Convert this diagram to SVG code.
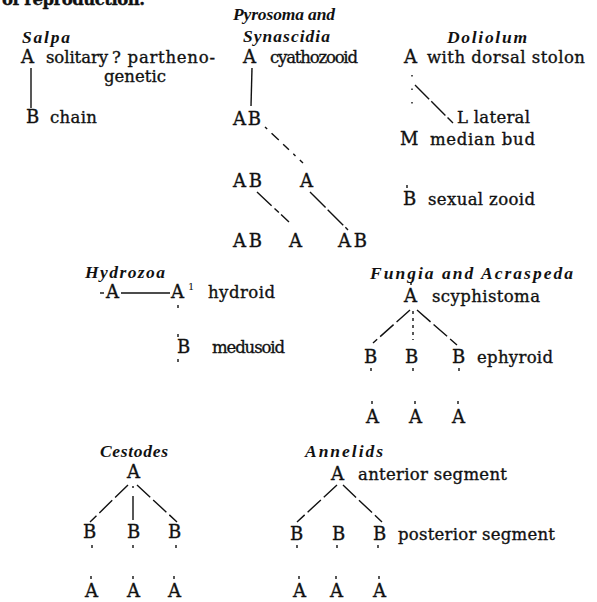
<svg xmlns="http://www.w3.org/2000/svg" width="597" height="602" viewBox="0 0 597 602">
<style>
text{font-family:"DejaVu Serif","Liberation Serif",serif;fill:#111;}
.t{font-size:16.5px;stroke:#111;stroke-width:0.35;}
.L{font-size:18px;}
.h{font-size:17.5px;font-style:italic;font-weight:bold;font-family:"Liberation Serif","DejaVu Serif",serif;}
.s{font-size:10px;}
.c line{stroke:#111;stroke-width:1.4;fill:none;}
.d{stroke-dasharray:18,4;}
</style>
<rect width="597" height="602" fill="#fff"/>
<text class="t" x="2" y="5" textLength="143" font-weight="bold">of reproduction.</text>

<g id="salpa">
<text class="h" x="22" y="43" textLength="48">Salpa</text>
<text class="t L" x="21" y="63">A</text>
<text class="t" x="46" y="63" textLength="62">solitary</text>
<text class="t" x="112" y="63" textLength="103">? partheno-</text>
<text class="t" x="104" y="82" textLength="62">genetic</text>
<text class="t L" x="26" y="123">B</text>
<text class="t" x="50" y="123" textLength="47">chain</text>
</g>

<g id="pyrosoma">
<text class="h" x="233" y="20" textLength="102">Pyrosoma and</text>
<text class="h" x="243" y="42" textLength="87">Synascidia</text>
<text class="t L" x="243" y="63">A</text>
<text class="t" x="270" y="63" textLength="88">cyathozooid</text>
<text class="t L" x="233" y="125" textLength="28">AB</text>
<text class="t L" x="233" y="187" textLength="29">AB</text>
<text class="t L" x="300" y="187">A</text>
<text class="t L" x="233" y="247" textLength="29">AB</text>
<text class="t L" x="289" y="247">A</text>
<text class="t L" x="338" y="247" textLength="29">AB</text>
</g>

<g id="doliolum">
<text class="h" x="447" y="43" textLength="80">Doliolum</text>
<text class="t L" x="404" y="63">A</text>
<text class="t" x="427" y="63" textLength="158">with dorsal stolon</text>
<text class="t" x="457" y="123" textLength="73">L lateral</text>
<text class="t L" x="400" y="145" textLength="17">M</text>
<text class="t" x="430" y="145" textLength="105">median bud</text>
<text class="t L" x="403" y="205">B</text>
<text class="t" x="428" y="205" textLength="107">sexual zooid</text>
</g>

<g id="hydrozoa">
<text class="h" x="85" y="278" textLength="80">Hydrozoa</text>
<text class="t L" x="106" y="298">A</text>
<text class="t L" x="171" y="298">A</text>
<text class="s" x="188" y="290">1</text>
<text class="t" x="208" y="298" textLength="67">hydroid</text>
<text class="t L" x="177" y="353">B</text>
<text class="t" x="212" y="353" textLength="73">medusoid</text>
</g>

<g id="fungia">
<text class="h" x="370" y="279" textLength="203">Fungia and Acraspeda</text>
<text class="t L" x="404" y="302">A</text>
<text class="t" x="432" y="302" textLength="108">scyphistoma</text>
<text class="t L" x="364" y="363">B</text>
<text class="t L" x="405" y="363">B</text>
<text class="t L" x="452" y="363">B</text>
<text class="t" x="477" y="363" textLength="76">ephyroid</text>
<text class="t L" x="366" y="423">A</text>
<text class="t L" x="409" y="423">A</text>
<text class="t L" x="452" y="423">A</text>
</g>

<g id="cestodes">
<text class="h" x="100" y="457" textLength="68">Cestodes</text>
<text class="t L" x="127" y="478">A</text>
<text class="t L" x="83" y="538">B</text>
<text class="t L" x="127" y="538">B</text>
<text class="t L" x="168" y="538">B</text>
<text class="t L" x="85" y="597">A</text>
<text class="t L" x="127" y="597">A</text>
<text class="t L" x="168" y="597">A</text>
</g>

<g id="annelids">
<text class="h" x="305" y="457" textLength="78">Annelids</text>
<text class="t L" x="331" y="480">A</text>
<text class="t" x="358" y="480" textLength="149">anterior segment</text>
<text class="t L" x="290" y="540">B</text>
<text class="t L" x="332" y="540">B</text>
<text class="t L" x="373" y="540">B</text>
<text class="t" x="398" y="540" textLength="157">posterior segment</text>
<text class="t L" x="293" y="597">A</text>
<text class="t L" x="330" y="597">A</text>
<text class="t L" x="373" y="597">A</text>
</g>

<g id="connectors" class="c">
<line x1="31" y1="68" x2="31" y2="108"/>
<line x1="252" y1="68" x2="251" y2="106"/>
<line x1="265" y1="127" x2="303" y2="163" stroke-dasharray="3,6,10,6,8,6"/>
<line x1="257" y1="192" x2="289" y2="222" stroke-dasharray="20,4,6,3"/>
<line x1="310" y1="192" x2="348" y2="230" stroke-dasharray="22,3"/>
<line x1="412" y1="75" x2="412" y2="114" stroke-dasharray="1.5,12"/>
<line x1="415" y1="85" x2="453" y2="123" stroke-dasharray="20,3"/>
<line x1="407" y1="185" x2="407" y2="188"/>
<line x1="100" y1="293" x2="104" y2="293"/>
<line x1="121" y1="293" x2="170" y2="293"/>
<line x1="178" y1="305" x2="178" y2="308"/>
<line x1="178" y1="334" x2="178" y2="337"/>
<line x1="178" y1="359" x2="178" y2="362"/>
<line x1="411" y1="282" x2="411" y2="285"/>
<line x1="410" y1="310" x2="373" y2="343" class="d"/>
<line x1="413" y1="311" x2="413" y2="340" stroke-dasharray="3,4"/>
<line x1="417" y1="310" x2="457" y2="345" class="d"/>
<line x1="371" y1="368" x2="371" y2="371"/>
<line x1="413" y1="368" x2="413" y2="371"/>
<line x1="459" y1="368" x2="459" y2="371"/>
<line x1="372" y1="401" x2="372" y2="404"/>
<line x1="415" y1="401" x2="415" y2="404"/>
<line x1="458" y1="401" x2="458" y2="404"/>
<line x1="128" y1="485" x2="90" y2="522" class="d"/>
<line x1="133" y1="486" x2="133" y2="520" stroke-dasharray="2,8,30"/>
<line x1="137" y1="485" x2="177" y2="522" class="d"/>
<line x1="92" y1="545" x2="92" y2="548"/>
<line x1="133" y1="545" x2="133" y2="548"/>
<line x1="176" y1="545" x2="176" y2="548"/>
<line x1="91" y1="576" x2="91" y2="579"/>
<line x1="133" y1="576" x2="133" y2="579"/>
<line x1="174" y1="576" x2="174" y2="579"/>
<line x1="337" y1="485" x2="297" y2="522" class="d"/>
<line x1="343" y1="485" x2="382" y2="522" class="d"/>
<line x1="297" y1="545" x2="297" y2="548"/>
<line x1="337" y1="545" x2="337" y2="548"/>
<line x1="378" y1="545" x2="378" y2="548"/>
<line x1="299" y1="576" x2="299" y2="579"/>
<line x1="336" y1="576" x2="336" y2="579"/>
<line x1="379" y1="576" x2="379" y2="579"/>
</g>
</svg>
